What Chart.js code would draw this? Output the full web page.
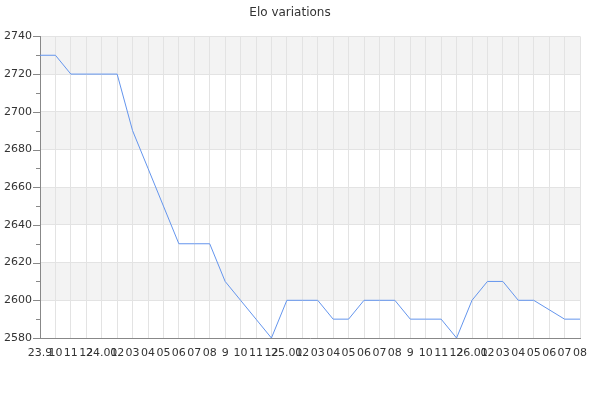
<!DOCTYPE html>
<html>
<head>
<meta charset="utf-8">
<script src="https://cdn.jsdelivr.net/npm/chart.js@4/dist/chart.umd.min.js"></script>
<style>
html,body{margin:0;padding:0;background:#fff;}
#wrap{width:600px;height:400px;}
</style>
</head>
<body>
<div id="wrap"><canvas id="c" width="600" height="400"></canvas></div>
<script>
const title = "Elo variations";
const labels = ["23.9","10","11","12","24.01","02","03","04","05","06","07","08","9","10","11","12","25.01","02","03","04","05","06","07","08","9","10","11","12","26.01","02","03","04","05","06","07","08"];
const elo = [2730,2730,2720,2720,2720,2720,2690,2670,2650,2630,2630,2630,2610,2600,2590,2580,2600,2600,2600,2590,2590,2600,2600,2600,2590,2590,2590,2580,2600,2610,2610,2600,2600,2595,2590,2590];
const yMin = 2580, yMax = 2740, yMajor = 20, yMinor = 10;

const FONT = "'DejaVu Sans', sans-serif";

const bandsPlugin = {
  id: 'bands',
  beforeDraw(chart) {
    const {ctx, chartArea, scales} = chart;
    const y = scales.y;
    ctx.save();
    ctx.fillStyle = '#f3f3f3';
    for (let v = yMin; v < yMax; v += yMajor) {
      if (((v - yMin) / yMajor) % 2 === 1) {
        const top = y.getPixelForValue(v + yMajor);
        const bot = y.getPixelForValue(v);
        ctx.fillRect(chartArea.left, top, chartArea.right - chartArea.left, bot - top);
      }
    }
    ctx.restore();
  }
};

const tickMarksPlugin = {
  id: 'tickMarks',
  afterDraw(chart) {
    const {ctx, chartArea, scales} = chart;
    const y = scales.y;
    ctx.save();
    ctx.strokeStyle = '#888';
    ctx.lineWidth = 1;
    y.ticks.forEach(t => {
      const p = Math.round(y.getPixelForValue(t.value)) + 0.5;
      const len = (t.value % yMajor === 0) ? 7 : 4;
      ctx.beginPath();
      ctx.moveTo(chartArea.left - len, p);
      ctx.lineTo(chartArea.left, p);
      ctx.stroke();
    });
    ctx.restore();
  }
};

new Chart(document.getElementById('c'), {
  type: 'line',
  data: {
    labels: labels,
    datasets: [{
      data: elo,
      borderColor: '#6495ed',
      borderWidth: 1,
      pointRadius: 0,
      pointHoverRadius: 0,
      tension: 0,
      fill: false
    }]
  },
  options: {
    responsive: false,
    animation: false,
    devicePixelRatio: 1,
    layout: { padding: { left: 0, right: 20, top: 0, bottom: 0 } },
    plugins: {
      legend: { display: false },
      tooltip: { enabled: false },
      title: {
        display: true,
        text: title,
        color: '#333',
        font: { family: FONT, size: 12, weight: 'normal' },
        padding: { top: 6, bottom: 16 }
      }
    },
    scales: {
      x: {
        type: 'category',
        offset: false,
        grid: { color: '#e3e3e3', drawTicks: false },
        border: { display: true, color: '#888' },
        ticks: {
          autoSkip: false, maxRotation: 0, minRotation: 0,
          color: '#333', padding: 9,
          font: { family: FONT, size: 11 }
        },
        afterFit(s) { s.height = 62; }
      },
      y: {
        min: yMin, max: yMax,
        grid: {
          drawTicks: false,
          color: c => (c.tick && c.tick.value % yMajor === 0) ? '#e3e3e3' : 'rgba(0,0,0,0)'
        },
        border: { display: true, color: '#888' },
        ticks: {
          stepSize: yMinor,
          autoSkip: false,
          color: '#333', padding: 8,
          font: { family: FONT, size: 11 },
          callback: v => (v % yMajor === 0) ? String(v) : ''
        },
        afterFit(s) { s.width = 40; }
      }
    }
  },
  plugins: [bandsPlugin, tickMarksPlugin]
});
</script>
</body>
</html>
